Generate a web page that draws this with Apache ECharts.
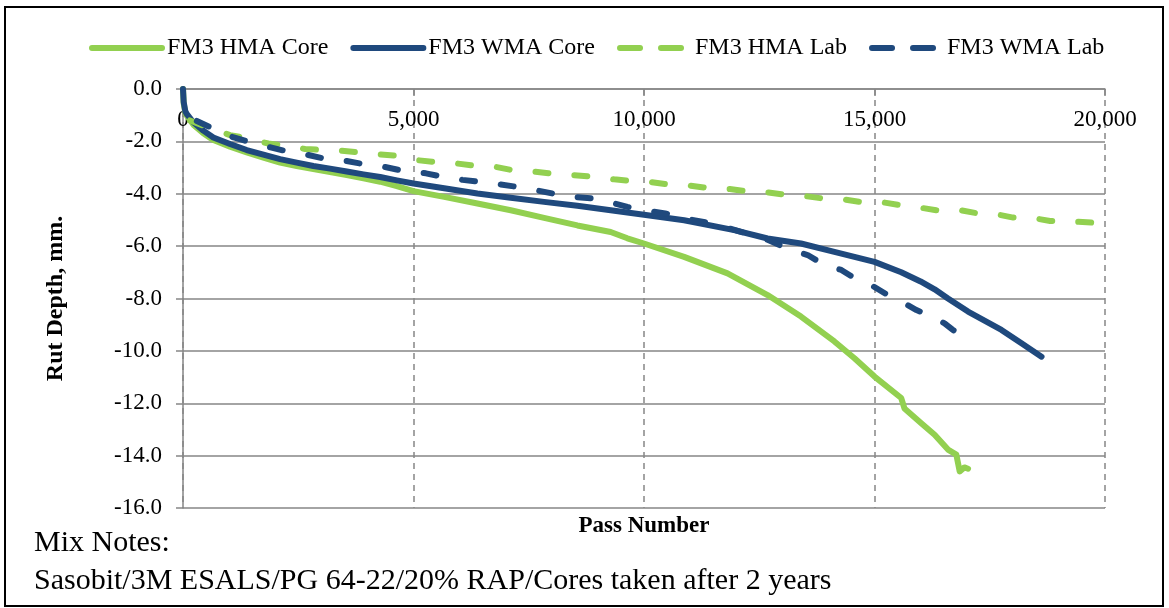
<!DOCTYPE html>
<html>
<head>
<meta charset="utf-8">
<script src="https://cdn.jsdelivr.net/npm/echarts@6/dist/echarts.min.js"></script>
<style>
html,body{margin:0;padding:0;background:#fff;}
#chart{width:1169px;height:608px;}
</style>
</head>
<body>
<div id="chart"></div>
<script>
// ---- Data ----
const seriesNames = ['FM3 HMA Core', 'FM3 WMA Core', 'FM3 HMA Lab', 'FM3 WMA Lab'];

const hmaCorePasses = [0, 15, 50, 80, 224, 441, 658, 1020, 1382, 1744, 2106, 2468, 2829, 3191, 3553, 3915, 4277, 4638, 5000, 5665, 6387, 7110, 7832, 8555, 9277, 9639, 10000, 10870, 11812, 12681, 13406, 14130, 14565, 15000, 15580, 15650, 16014, 16304, 16594, 16775, 16848, 16950, 17029];
const hmaCoreDepth  = [0, -0.55, -0.9, -1.01, -1.36, -1.69, -1.95, -2.2, -2.42, -2.62, -2.81, -2.94, -3.06, -3.17, -3.29, -3.41, -3.54, -3.71, -3.9, -4.12, -4.37, -4.63, -4.92, -5.21, -5.46, -5.7, -5.9, -6.41, -7.04, -7.87, -8.69, -9.64, -10.28, -10.98, -11.8, -12.2, -12.76, -13.2, -13.77, -13.96, -14.6, -14.45, -14.5];

const wmaCorePasses = [0, 15, 50, 80, 224, 441, 658, 1020, 1382, 1744, 2106, 2468, 2829, 3191, 3553, 3915, 4277, 4638, 5000, 5665, 6387, 7110, 7832, 8555, 9277, 10000, 10870, 11957, 12681, 13406, 14130, 15000, 15580, 16000, 16304, 16594, 17029, 17754, 18188, 18623];
const wmaCoreDepth  = [0, -0.5, -0.85, -0.95, -1.27, -1.59, -1.85, -2.1, -2.33, -2.51, -2.68, -2.81, -2.94, -3.04, -3.15, -3.26, -3.36, -3.49, -3.61, -3.79, -3.99, -4.15, -4.31, -4.46, -4.63, -4.8, -5.01, -5.39, -5.71, -5.9, -6.22, -6.6, -7.0, -7.35, -7.65, -8.0, -8.5, -9.2, -9.71, -10.22];

const hmaLabPasses = [150, 440, 1020, 1310, 1850, 2250, 2650, 3050, 3440, 3840, 4240, 4640, 5050, 5450, 5880, 6280, 6750, 7110, 7580, 7940, 8410, 8880, 9350, 9710, 10170, 10590, 11010, 11430, 11860, 12280, 12700, 13120, 13540, 13960, 14380, 14760, 15190, 15570, 15990, 16410, 16830, 17210, 17630, 18010, 18390, 18810, 19200, 19700];
const hmaLabDepth  = [-1.2, -1.4, -1.76, -1.85, -2.08, -2.17, -2.29, -2.33, -2.36, -2.42, -2.49, -2.55, -2.71, -2.79, -2.83, -2.92, -2.96, -3.09, -3.15, -3.22, -3.28, -3.35, -3.45, -3.51, -3.56, -3.66, -3.69, -3.79, -3.82, -3.92, -3.95, -4.05, -4.1, -4.2, -4.23, -4.33, -4.33, -4.44, -4.53, -4.65, -4.62, -4.74, -4.78, -4.91, -4.91, -5.04, -5.05, -5.1];

const wmaLabPasses = [300, 700, 1100, 1500, 1900, 2300, 2720, 3120, 3550, 3950, 4385, 4780, 5270, 5630, 6060, 6420, 6860, 7220, 7650, 8010, 8450, 8880, 9320, 9640, 10080, 10460, 11000, 11500, 12000, 12600, 13190, 13550, 13910, 14280, 14640, 14930, 15290, 15580, 15910, 16170, 16520, 16700, 17030, 17170];
const wmaLabDepth  = [-1.22, -1.55, -1.85, -2.05, -2.23, -2.4, -2.52, -2.68, -2.75, -2.88, -2.98, -3.13, -3.22, -3.35, -3.47, -3.54, -3.64, -3.73, -3.86, -3.99, -4.12, -4.18, -4.35, -4.5, -4.65, -4.75, -4.98, -5.15, -5.4, -5.7, -6.15, -6.34, -6.72, -6.91, -7.3, -7.49, -7.87, -8.12, -8.44, -8.63, -8.95, -9.2, -9.52, -9.62];

const xTicks = [0, 5000, 10000, 15000, 20000];
const yTicks = [0, -2, -4, -6, -8, -10, -12, -14, -16];

const mixNotesTitle = 'Mix Notes:';
const mixNotes = 'Sasobit/3M ESALS/PG 64-22/20% RAP/Cores taken after 2 years';

// ---- Styling ----
const GREEN = '#92D050';
const BLUE = '#1F497D';
const GRID = '#868686';
const FONT = '"Liberation Serif", "Times New Roman", serif';
const LINE_W = 6;

function pairs(xs, ys) { return xs.map((x, i) => [x, ys[i]]); }

const chart = echarts.init(document.getElementById('chart'), null, {renderer: 'canvas'});

const dashPattern = [13, 26];

function lineSeries(name, xs, ys, color, dashed) {
  const ls = {
    color: color,
    width: LINE_W,
    type: dashed ? dashPattern : 'solid',
    cap: 'round',
    join: 'round'
  };
  return {
    name: name,
    type: 'line',
    data: pairs(xs, ys),
    symbol: 'none',
    showSymbol: false,
    smooth: false,
    animation: false,
    lineStyle: ls,
    emphasis: {disabled: true, lineStyle: {width: LINE_W}},
    itemStyle: {color: color}
  };
}

const option = {
  animation: false,
  backgroundColor: '#fff',
  textStyle: {fontFamily: FONT},
  grid: {left: 183, right: 64, top: 89, bottom: 100, containLabel: false},
  legend: {
    left: 84,
    top: 31,
    itemWidth: 70,
    itemHeight: 14,
    itemGap: 22,
    itemStyle: {opacity: 0},
    textStyle: {fontFamily: FONT, fontSize: 24, color: '#000'},
    data: [
      {name: seriesNames[0], lineStyle: {type: 'solid', width: LINE_W, cap: 'round'}},
      {name: seriesNames[1], lineStyle: {type: 'solid', width: LINE_W, cap: 'round'}},
      {name: seriesNames[2], lineStyle: {type: [20, 21], width: LINE_W, cap: 'round'}},
      {name: seriesNames[3], lineStyle: {type: [20, 21], width: LINE_W, cap: 'round'}}
    ]
  },
  xAxis: {
    type: 'value',
    position: 'top',
    min: xTicks[0],
    max: xTicks[xTicks.length - 1],
    interval: xTicks[1] - xTicks[0],
    axisLine: {show: true, onZero: false, lineStyle: {color: GRID, width: 1.5}},
    axisTick: {show: true, inside: true, length: 7, lineStyle: {color: GRID, width: 1.5}},
    axisLabel: {
      inside: true,
      margin: 19,
      color: '#000',
      fontFamily: FONT,
      fontSize: 23,
      formatter: v => v.toLocaleString('en-US')
    },
    splitLine: {show: true, lineStyle: {color: GRID, width: 1.5, type: [6, 5]}}
  },
  yAxis: {
    type: 'value',
    min: yTicks[yTicks.length - 1],
    max: yTicks[0],
    interval: 2,
    name: 'Rut Depth, mm.',
    nameLocation: 'middle',
    nameRotate: 90,
    nameGap: 115,
    nameTextStyle: {fontFamily: FONT, fontSize: 24, fontWeight: 'bold', color: '#000'},
    axisLine: {show: true, onZero: false, lineStyle: {color: GRID, width: 1.5}},
    axisTick: {show: true, inside: false, length: 7, lineStyle: {color: GRID, width: 1.5}},
    axisLabel: {
      margin: 21,
      color: '#000',
      fontFamily: FONT,
      fontSize: 23,
      formatter: v => v.toFixed(1)
    },
    splitLine: {show: true, lineStyle: {color: GRID, width: 1.5, type: 'solid'}}
  },
  series: [
    lineSeries(seriesNames[0], hmaCorePasses, hmaCoreDepth, GREEN, false),
    lineSeries(seriesNames[1], wmaCorePasses, wmaCoreDepth, BLUE, false),
    lineSeries(seriesNames[2], hmaLabPasses, hmaLabDepth, GREEN, true),
    lineSeries(seriesNames[3], wmaLabPasses, wmaLabDepth, BLUE, true)
  ],
  graphic: [
    {
      type: 'rect',
      silent: true,
      shape: {x: 5, y: 7, width: 1158, height: 599},
      style: {fill: 'none', stroke: '#000', lineWidth: 2}
    },
    {
      type: 'text',
      silent: true,
      x: 644, y: 526,
      style: {text: 'Pass Number', font: 'bold 23px ' + FONT, fill: '#000', align: 'center', verticalAlign: 'middle'}
    },
    {
      type: 'text',
      silent: true,
      x: 34, y: 543,
      style: {text: mixNotesTitle, font: '30px ' + FONT, fill: '#000', align: 'left', verticalAlign: 'middle'}
    },
    {
      type: 'text',
      silent: true,
      x: 34, y: 581,
      style: {text: mixNotes, font: '30px ' + FONT, fill: '#000', align: 'left', verticalAlign: 'middle'}
    }
  ]
};

chart.setOption(option);
</script>
</body>
</html>
